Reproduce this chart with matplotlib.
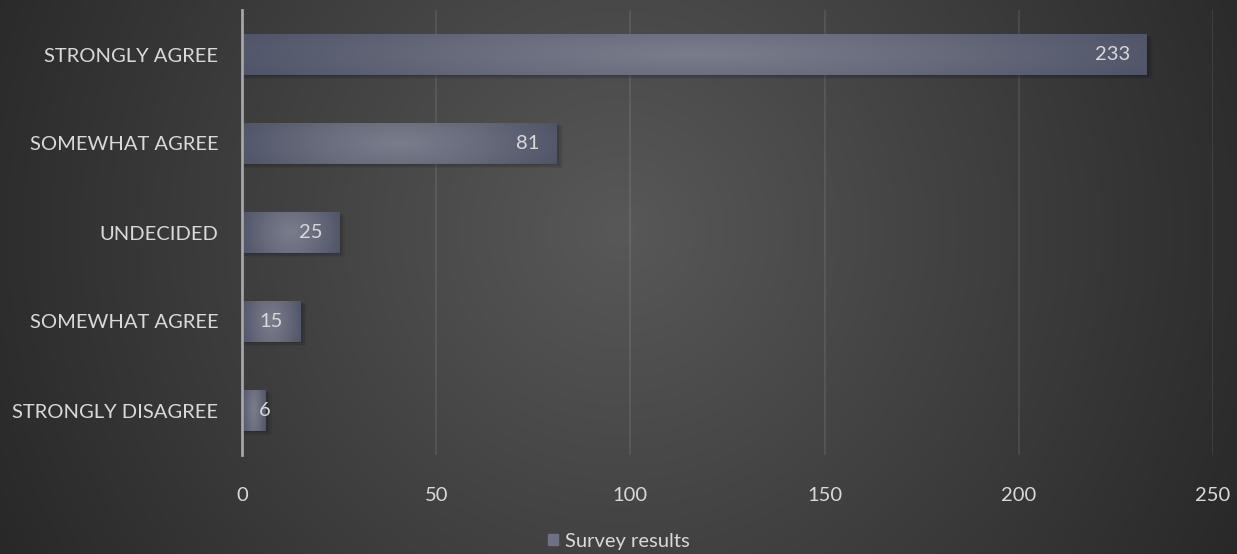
import numpy as np
import matplotlib.pyplot as plt
from matplotlib.patches import Rectangle
from matplotlib.colors import LinearSegmentedColormap

plt.rcParams['font.family'] = ['Lato', 'DejaVu Sans']

# Survey responses, listed top to bottom
categories = ["STRONGLY AGREE", "SOMEWHAT AGREE", "UNDECIDED", "SOMEWHAT AGREE", "STRONGLY DISAGREE"]
counts = [233, 81, 25, 15, 6]
x_ticks = [0, 50, 100, 150, 200, 250]
series_name = "Survey results"

text_col = "#d9d9d9"
fs = 14.5

W, H = 1237, 554
fig = plt.figure(figsize=(W / 100, H / 100), dpi=100)

# radial background, lighter in the middle
bg = fig.add_axes([0, 0, 1, 1], zorder=-10)
px, py = np.meshgrid(np.arange(W), np.arange(H))
d = np.hypot(px - 620, py - 230) / 700
bg_cmap = LinearSegmentedColormap.from_list("bg", ["#585858", "#282828"])
bg.imshow(np.clip(d, 0, 1), cmap=bg_cmap, vmin=0, vmax=1, aspect="auto",
          extent=[0, 1, 0, 1], origin="upper", interpolation="bilinear")
bg.axis("off")

ax = fig.add_axes([242 / W, 99 / H, 971 / W, 445 / H])
ax.patch.set_alpha(0)

pos = np.arange(len(categories))
bar_h = 0.47
bars = ax.barh(pos, counts, height=bar_h, color="#5c6073", zorder=3)

ax.set_xlim(0, 250)
ax.set_ylim(len(categories) - 0.5, -0.5)

bar_cmap = LinearSegmentedColormap.from_list("bar", ["#7a7d8c", "#676b7b", "#4f5469"])
u, t = np.meshgrid(np.linspace(-1, 1, 200), np.linspace(-1, 1, 40))
rr = np.sqrt(u ** 2 * 0.85 + t ** 2 * 0.15)
for rect in bars:
    x0, y0 = rect.get_x(), rect.get_y()
    w, h = rect.get_width(), rect.get_height()
    # soft drop shadow
    for k, a in enumerate([0.10, 0.08, 0.06]):
        ax.add_patch(Rectangle((x0, y0 + 0.012 * (k + 1)), w + 0.6 + k * 0.5, h,
                               color="black", alpha=a, lw=0, zorder=2))
    im = ax.imshow(rr, cmap=bar_cmap, vmin=0, vmax=1, aspect="auto",
                   extent=[x0, x0 + w, y0 + h, y0], interpolation="bicubic", zorder=4)
    im.set_clip_path(rect)
    rect.set_alpha(0)

# value labels at the inside end; labels that don't fit start just right of the axis
fig.canvas.draw()
renderer = fig.canvas.get_renderer()
margin = 4.4
for i, v in enumerate(counts):
    lbl = ax.text(v - margin, i, str(v), ha="right", va="center",
                  color=text_col, fontsize=fs, zorder=5)
    bb = lbl.get_window_extent(renderer).transformed(ax.transData.inverted())
    if bb.x0 < margin:
        lbl.set_x(margin)
        lbl.set_ha("left")

ax.set_xticks(x_ticks)
ax.set_yticks(pos)
ax.set_yticklabels(categories)
ax.tick_params(axis="both", length=0, colors=text_col, labelsize=fs)
ax.tick_params(axis="x", pad=23)
ax.tick_params(axis="y", pad=17)
ax.grid(axis="x", color="white", alpha=0.1, lw=1.2, zorder=0)
ax.set_axisbelow(True)
for s in ["top", "right", "bottom"]:
    ax.spines[s].set_visible(False)
ax.spines["left"].set_color("#a6a6a6")
ax.spines["left"].set_linewidth(2)
ax.spines["left"].set_zorder(6)

handle = Rectangle((0, 0), 1, 1, color="#6e7182")
leg = fig.legend([handle], [series_name], loc="lower center", bbox_to_anchor=(0.5, -0.025),
                 frameon=False, fontsize=fs, handlelength=0.5, handleheight=0.5,
                 handletextpad=0.35)
for txt in leg.get_texts():
    txt.set_color(text_col)

fig.savefig("out.png", dpi=100)
